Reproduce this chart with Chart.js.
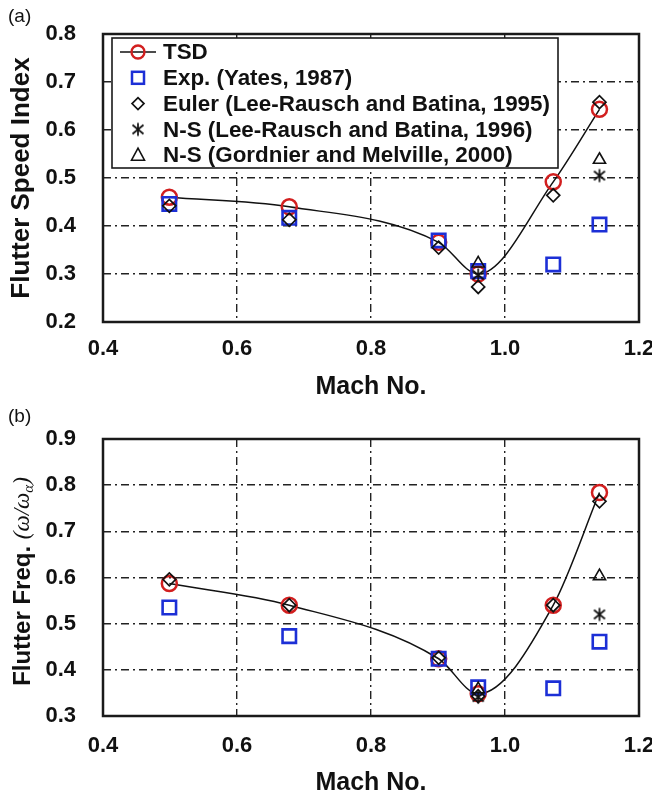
<!DOCTYPE html>
<html lang="en">
<head>
<meta charset="UTF-8">
<title>Flutter speed index and flutter frequency vs Mach number</title>
<script src="https://cdn.jsdelivr.net/npm/chart.js"></script>
<style>
  body { margin: 0; background: #fff; font-family: 'Liberation Sans', Arial, sans-serif; }
  .panel { position: absolute; left: 0; width: 652px; }
  .tag { position: absolute; left: 8px; font-size: 19px; color: #111; }
</style>
</head>
<body>
<div class="panel" style="top:0;height:400px"><canvas id="fsi" width="652" height="400"></canvas></div>
<div class="panel" style="top:400px;height:396px"><canvas id="freq" width="652" height="396"></canvas></div>
<div class="tag" style="top:5px">(a)</div>
<div class="tag" style="top:405px">(b)</div>

<script>
// Mach numbers of the test points
const mach = [0.499, 0.678, 0.901, 0.960, 1.072, 1.141];
const nsMach = [0.960, 1.141];

// (a) flutter speed index
const tsdFsi   = [0.460, 0.440, 0.366, 0.300, 0.492, 0.643];
const expFsi   = [0.446, 0.417, 0.370, 0.306, 0.320, 0.403];
const eulerFsi = [0.442, 0.413, 0.355, 0.273, 0.464, 0.658];
const nsLeeFsi = [0.298, 0.505];
const nsGorFsi = [0.322, 0.538];

// (b) flutter frequency ratio
const tsdFreq   = [0.587, 0.540, 0.424, 0.348, 0.540, 0.784];
const expFreq   = [0.535, 0.473, 0.424, 0.362, 0.360, 0.461];
const eulerFreq = [0.596, 0.540, 0.426, 0.343, 0.540, 0.765];
const nsLeeFreq = [0.341, 0.520];
const nsGorFreq = [0.358, 0.603];

const seriesNames = [
  'TSD',
  'Exp. (Yates, 1987)',
  'Euler (Lee-Rausch and Batina, 1995)',
  'N-S (Lee-Rausch and Batina, 1996)',
  'N-S (Gordnier and Melville, 2000)'
];
const xTicks = [0.4, 0.6, 0.8, 1.0, 1.2];

Chart.defaults.font.family = "'Liberation Sans', Arial, sans-serif";
Chart.defaults.color = '#111';

const pts = (xs, ys) => xs.map((x, i) => ({ x: x, y: ys[i] }));

// asterisk marker (X with a vertical bar)
function makeAsterisk() {
  const c = document.createElement('canvas');
  c.width = 16; c.height = 16;
  const g = c.getContext('2d');
  g.strokeStyle = '#111';
  g.lineWidth = 1.7;
  g.beginPath();
  g.moveTo(8, 1.5); g.lineTo(8, 14.5);
  g.moveTo(2.5, 3.5); g.lineTo(13.5, 12.5);
  g.moveTo(13.5, 3.5); g.lineTo(2.5, 12.5);
  g.stroke();
  return c;
}
const asterisk = makeAsterisk();

function drawMarker(ctx, i, x, y) {
  ctx.save();
  ctx.lineWidth = 2;
  if (i === 0) {
    ctx.strokeStyle = '#111'; ctx.lineWidth = 1.5;
    ctx.beginPath(); ctx.moveTo(x - 18, y); ctx.lineTo(x + 18, y); ctx.stroke();
    ctx.strokeStyle = '#d21f1f'; ctx.lineWidth = 2.3;
    ctx.beginPath(); ctx.arc(x, y, 6.5, 0, Math.PI * 2); ctx.stroke();
  } else if (i === 1) {
    ctx.strokeStyle = '#1c2fd6'; ctx.lineWidth = 2.5;
    ctx.strokeRect(x - 6, y - 6, 12, 12);
  } else if (i === 2) {
    ctx.strokeStyle = '#111'; ctx.lineWidth = 1.7;
    ctx.beginPath();
    ctx.moveTo(x - 6, y); ctx.lineTo(x, y - 6); ctx.lineTo(x + 6, y); ctx.lineTo(x, y + 6);
    ctx.closePath(); ctx.stroke();
  } else if (i === 3) {
    ctx.drawImage(asterisk, x - 8, y - 8);
  } else {
    ctx.strokeStyle = '#111'; ctx.lineWidth = 1.6;
    ctx.beginPath();
    ctx.moveTo(x, y - 7); ctx.lineTo(x + 6.5, y + 5); ctx.lineTo(x - 6.5, y + 5);
    ctx.closePath(); ctx.stroke();
  }
  ctx.restore();
}

const framePlugin = {
  id: 'frame',
  afterDatasetsDraw(chart) {
    const a = chart.chartArea, ctx = chart.ctx;
    ctx.save();
    ctx.strokeStyle = '#1a1a1a';
    ctx.lineWidth = 2.5;
    ctx.strokeRect(a.left, a.top, a.right - a.left, a.bottom - a.top);
    ctx.restore();
  }
};

const legendPlugin = {
  id: 'boxLegend',
  afterDraw(chart) {
    const ctx = chart.ctx;
    const bx = 112, by = 38, bw = 446, bh = 130;
    ctx.save();
    ctx.fillStyle = '#fff';
    ctx.fillRect(bx, by, bw, bh);
    ctx.strokeStyle = '#1a1a1a';
    ctx.lineWidth = 1.6;
    ctx.strokeRect(bx, by, bw, bh);
    ctx.font = "bold 22.4px 'Liberation Sans', Arial, sans-serif";
    ctx.fillStyle = '#111';
    ctx.textBaseline = 'middle';
    seriesNames.forEach((name, i) => {
      const y = 52 + i * 25.8;
      drawMarker(ctx, i, 138, y);
      ctx.fillText(name, 163, y + 1);
    });
    ctx.restore();
  }
};

// y title with symbols for panel (b)
const freqTitlePlugin = {
  id: 'freqTitle',
  afterDraw(chart) {
    const ctx = chart.ctx, a = chart.chartArea;
    const parts = [
      { t: 'Flutter Freq. ', f: "bold 24px 'Liberation Sans', Arial, sans-serif", dy: 0 },
      { t: '(ω/ω', f: "italic 23px 'Liberation Serif', 'DejaVu Serif', serif", dy: 0 },
      { t: 'α', f: "italic 15px 'Liberation Serif', 'DejaVu Serif', serif", dy: 6 },
      { t: ')', f: "italic 23px 'Liberation Serif', 'DejaVu Serif', serif", dy: 0 }
    ];
    ctx.save();
    let total = 0;
    parts.forEach(p => { ctx.font = p.f; p.w = ctx.measureText(p.t).width; total += p.w; });
    ctx.translate(23, (a.top + a.bottom) / 2 + 4);
    ctx.rotate(-Math.PI / 2);
    ctx.fillStyle = '#111';
    ctx.textBaseline = 'middle';
    let x = -total / 2;
    parts.forEach(p => { ctx.font = p.f; ctx.fillText(p.t, x, p.dy); x += p.w; });
    ctx.restore();
  }
};

function makeChart(id, cfg) {
  const datasets = [
    {
      label: seriesNames[0], data: pts(mach, cfg.tsd),
      borderColor: '#111', borderWidth: 1.5, cubicInterpolationMode: 'monotone',
      pointStyle: 'circle', pointRadius: 7.5, pointBorderWidth: 2.5,
      pointBorderColor: '#d21f1f', pointBackgroundColor: 'rgba(0,0,0,0)', order: 5
    },
    {
      label: seriesNames[1], data: pts(mach, cfg.exp), showLine: false,
      pointStyle: 'rect', pointRadius: 9.5, pointBorderWidth: 2.6,
      pointBorderColor: '#1c2fd6', pointBackgroundColor: 'rgba(0,0,0,0)', order: 4
    },
    {
      label: seriesNames[2], data: pts(mach, cfg.euler), showLine: false,
      pointStyle: 'rectRot', pointRadius: 6.5, pointBorderWidth: 1.7,
      pointBorderColor: '#111', pointBackgroundColor: 'rgba(0,0,0,0)', order: 1
    },
    {
      label: seriesNames[3], data: pts(nsMach, cfg.nsLee), showLine: false,
      pointStyle: asterisk, pointRadius: 8, order: 2
    },
    {
      label: seriesNames[4], data: pts(nsMach, cfg.nsGor), showLine: false,
      pointStyle: 'triangle', pointRadius: 7, pointBorderWidth: 1.6,
      pointBorderColor: '#111', pointBackgroundColor: 'rgba(0,0,0,0)', order: 3
    }
  ];
  const gridStyle = { color: '#222', lineWidth: 1.4, drawTicks: false };
  return new Chart(document.getElementById(id), {
    type: 'line',
    data: { datasets: datasets },
    plugins: cfg.plugins,
    options: {
      responsive: false,
      animation: false,
      events: [],
      layout: { padding: { top: cfg.top, right: 13, left: 0, bottom: 0 } },
      plugins: { legend: { display: false }, tooltip: { enabled: false } },
      scales: {
        x: {
          type: 'linear', min: 0.4, max: 1.2,
          afterBuildTicks: s => { s.ticks = xTicks.map(v => ({ value: v })); },
          afterFit: s => { s.height = cfg.xh; s.paddingLeft = 0; s.paddingRight = 0; },
          grid: gridStyle,
          border: { display: false, dash: [8, 4, 2, 4] },
          ticks: {
            padding: cfg.xpad, maxRotation: 0,
            font: { size: 22, weight: 'bold' },
            callback: v => v.toFixed(1)
          },
          title: {
            display: true, text: 'Mach No.',
            font: { size: 25, weight: 'bold', lineHeight: 1 },
            padding: { top: 0, bottom: 0 }
          }
        },
        y: {
          min: cfg.ymin, max: cfg.ymax,
          afterBuildTicks: s => { s.ticks = cfg.yTicks.map(v => ({ value: v })); },
          afterFit: s => { s.width = 103; s.paddingTop = 0; s.paddingBottom = 0; },
          grid: gridStyle,
          border: { display: false, dash: [8, 4, 2, 4] },
          ticks: {
            padding: 27,
            font: { size: 22, weight: 'bold' },
            callback: v => v.toFixed(1)
          },
          title: {
            display: cfg.ytitle !== null, text: cfg.ytitle || '',
            font: { size: 26, weight: 'bold', lineHeight: 1 },
            padding: { top: 9, bottom: 0 }
          }
        }
      }
    }
  });
}

makeChart('fsi', {
  tsd: tsdFsi, exp: expFsi, euler: eulerFsi, nsLee: nsLeeFsi, nsGor: nsGorFsi,
  ymin: 0.2, ymax: 0.8, yTicks: [0.2, 0.3, 0.4, 0.5, 0.6, 0.7, 0.8],
  ytitle: 'Flutter Speed Index', top: 34, xh: 78, xpad: 14,
  plugins: [framePlugin, legendPlugin]
});

makeChart('freq', {
  tsd: tsdFreq, exp: expFreq, euler: eulerFreq, nsLee: nsLeeFreq, nsGor: nsGorFreq,
  ymin: 0.3, ymax: 0.9, yTicks: [0.3, 0.4, 0.5, 0.6, 0.7, 0.8, 0.9],
  ytitle: null, top: 39, xh: 80, xpad: 17,
  plugins: [framePlugin, freqTitlePlugin]
});
</script>
</body>
</html>
